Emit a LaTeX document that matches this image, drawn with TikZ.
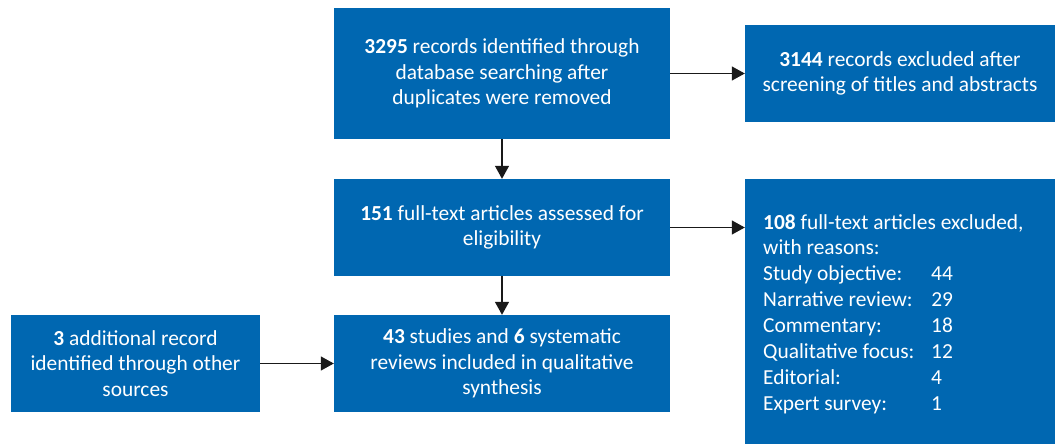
\documentclass[tikz,border=0pt]{standalone}
\usepackage{fontspec}
\setmainfont{Carlito}
\usetikzlibrary{arrows.meta}
\definecolor{boxblue}{RGB}{0,103,177}
\begin{document}
\begin{tikzpicture}[x=1pt,y=-1pt,
  box/.style={fill=boxblue, text=white, align=center, inner sep=0pt,
    font=\fontsize{21.4}{25.5}\selectfont},
  conn/.style={draw=black!90, line width=1.3pt, -{Triangle[length=13pt,width=14pt]}}]
\useasboundingbox (0,0) rectangle (1055,444);
\node[box, minimum width=336pt, minimum height=131pt] (a) at (502,73.5)
  {\textbf{3295} records identified through\\ database searching after\\ duplicates were removed};
\node[box, minimum width=310pt, minimum height=97pt] (b) at (900,73.5)
  {\textbf{3144} records excluded after\\ screening of titles and abstracts};
\node[box, minimum width=336pt, minimum height=97pt] (c) at (502,227.5)
  {\textbf{151} full-text articles assessed for\\ eligibility};
\node[box, minimum width=310pt, minimum height=265pt] (d) at (900,311.5) {};
\node[text=white, inner sep=0pt, anchor=base west,
  font=\fontsize{21.4}{25.9}\selectfont] (dtext) at (763,229)
  {\begin{tabular}[t]{@{}p{168pt}@{}l@{}}
   \multicolumn{2}{@{}l@{}}{\textbf{108} full-text articles excluded,}\\
   \multicolumn{2}{@{}l@{}}{with reasons:}\\
   Study objective: & 44\\
   Narrative review: & 29\\
   Commentary: & 18\\
   Qualitative focus: & 12\\
   Editorial: & 4\\
   Expert survey: & 1
   \end{tabular}};
\node[box, minimum width=336pt, minimum height=97pt] (e) at (502,363.5)
  {\textbf{43} studies and \textbf{6} systematic\\ reviews included in qualitative\\ synthesis};
\node[box, minimum width=249pt, minimum height=97pt] (f) at (135.5,363.5)
  {\textbf{3} additional record\\ identified through other\\ sources};
\draw[conn] (a.east) -- (b.west);
\draw[conn] (a.south) -- (c.north);
\draw[conn] (c.east) -- (c.east -| d.west);
\draw[conn] (c.south) -- (e.north);
\draw[conn] (f.east) -- (e.west);
\end{tikzpicture}
\end{document}
